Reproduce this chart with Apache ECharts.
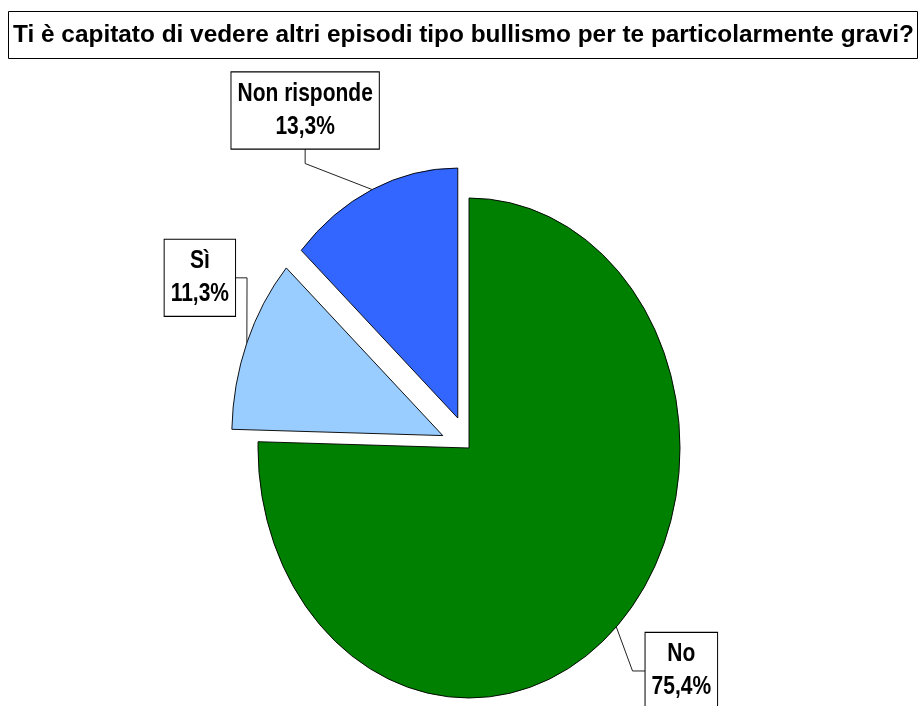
<!DOCTYPE html>
<html>
<head>
<meta charset="utf-8">
<script src="https://cdn.jsdelivr.net/npm/echarts@6/dist/echarts.min.js"></script>
<style>
  html, body { margin: 0; padding: 0; background: #fff; }
  #chart { width: 920px; height: 706px; }
</style>
</head>
<body>
<div id="chart"></div>
<script>
// dati
const categories = ['No', 'Sì', 'Non risponde'];
const percentages = [75.4, 11.3, 13.3];

const sliceColors = ['#008000', '#99ccff', '#3366ff'];

// torta schiacciata in orizzontale (come nell'originale)
const pieCenter = [469, 448];
const radiusX = 211;
const radiusY = 250;
const explodeDist = [0, 29, 32];
// centro etichetta rispetto al punto sul bordo della fetta
const labelShift = [[65, 44], [-47, -65], [-67, -79]];
const labelSide = ['left', 'right', 'bottom'];

const measureCtx = document.createElement('canvas').getContext('2d');
const textWidth = (txt, font) => { measureCtx.font = font; return measureCtx.measureText(txt).width; };
const hasNarrow = textWidth('Non risponde', 'bold 20px "Liberation Sans Narrow", monospace') !==
  textWidth('Non risponde', 'bold 20px monospace');
const labelFamily = hasNarrow ? 'Liberation Sans Narrow' : 'Liberation Sans';
const labelSize = hasNarrow ? 25.5 : 21;
// testo etichette più alto che largo, come nell'originale
const labelStretch = hasNarrow ? 1 : 1.2;
const labelLineHeight = 33;
const labelPad = [5, 6];

const total = percentages.reduce((a, b) => a + b, 0);
const startAngles = [];
let acc = 0;
percentages.forEach(v => { startAngles.push(acc / total * Math.PI * 2); acc += v; });

const fmtPct = v => v.toFixed(1).replace('.', ',') + '%';

function renderSlice(params, api) {
  const i = params.dataIndex;
  const value = api.value(0);
  const a0 = startAngles[i];
  const a1 = a0 + value / total * Math.PI * 2;
  const mid = (a0 + a1) / 2;
  // angoli in senso orario dalle ore 12
  const ex = radiusX * Math.sin(mid);
  const ey = -radiusY * Math.cos(mid);
  const len = Math.hypot(ex, ey);
  const cx = pieCenter[0] + explodeDist[i] * ex / len;
  const cy = pieCenter[1] + explodeDist[i] * ey / len;
  const anchor = [cx + ex, cy + ey];

  const lines = [categories[i], fmtPct(value)];
  const font = 'bold ' + labelSize + 'px "' + labelFamily + '"';
  const halfW = Math.max(...lines.map(l => textWidth(l, font))) / 2 + labelPad[1];
  const halfH = lines.length * labelLineHeight / 2 + labelPad[0];
  const bx = anchor[0] + labelShift[i][0];
  const by = anchor[1] + labelShift[i][1];
  let edge, elbow;
  if (labelSide[i] === 'left') {
    edge = [bx - halfW, by]; elbow = [edge[0] - 13, by];
  } else if (labelSide[i] === 'right') {
    edge = [bx + halfW, by]; elbow = [edge[0] + 12, by];
  } else {
    edge = [bx, by + halfH]; elbow = [bx, edge[1] + 15];
  }

  return {
    type: 'group',
    children: [
      {
        type: 'sector',
        x: cx, y: cy,
        scaleX: radiusX / radiusY,
        shape: {
          cx: 0, cy: 0, r0: 0, r: radiusY,
          startAngle: a0 - Math.PI / 2,
          endAngle: a1 - Math.PI / 2,
          clockwise: true
        },
        style: { fill: sliceColors[i], stroke: '#000', lineWidth: 1, strokeNoScale: true }
      },
      {
        type: 'polyline',
        shape: { points: [anchor, elbow, edge] },
        style: { stroke: '#222', lineWidth: 1, fill: null },
        z2: 5
      },
      {
        type: 'text',
        x: bx, y: by,
        scaleY: labelStretch,
        z2: 10,
        style: {
          text: lines.join('\n'),
          fontFamily: labelFamily,
          fontWeight: 'bold',
          fontSize: labelSize,
          lineHeight: labelLineHeight / labelStretch,
          fill: '#000',
          align: 'center',
          verticalAlign: 'middle',
          backgroundColor: '#fff',
          borderColor: '#000',
          borderWidth: 1,
          padding: [labelPad[0] / labelStretch, labelPad[1]]
        }
      }
    ]
  };
}

const chart = echarts.init(document.getElementById('chart'));
chart.setOption({
  animation: false,
  backgroundColor: '#fff',
  title: {
    text: 'Ti è capitato di vedere altri episodi tipo bullismo per te particolarmente gravi?',
    left: 8,
    top: 11,
    padding: [9, 4, 9, 5],
    borderColor: '#000',
    borderWidth: 1,
    textStyle: {
      fontFamily: 'Liberation Sans',
      fontWeight: 'bold',
      fontSize: 24.4,
      lineHeight: 30,
      color: '#000'
    }
  },
  series: [{
    type: 'custom',
    coordinateSystem: 'none',
    renderItem: renderSlice,
    data: percentages.map((v, i) => ({ name: categories[i], value: v }))
  }]
});
</script>
</body>
</html>
